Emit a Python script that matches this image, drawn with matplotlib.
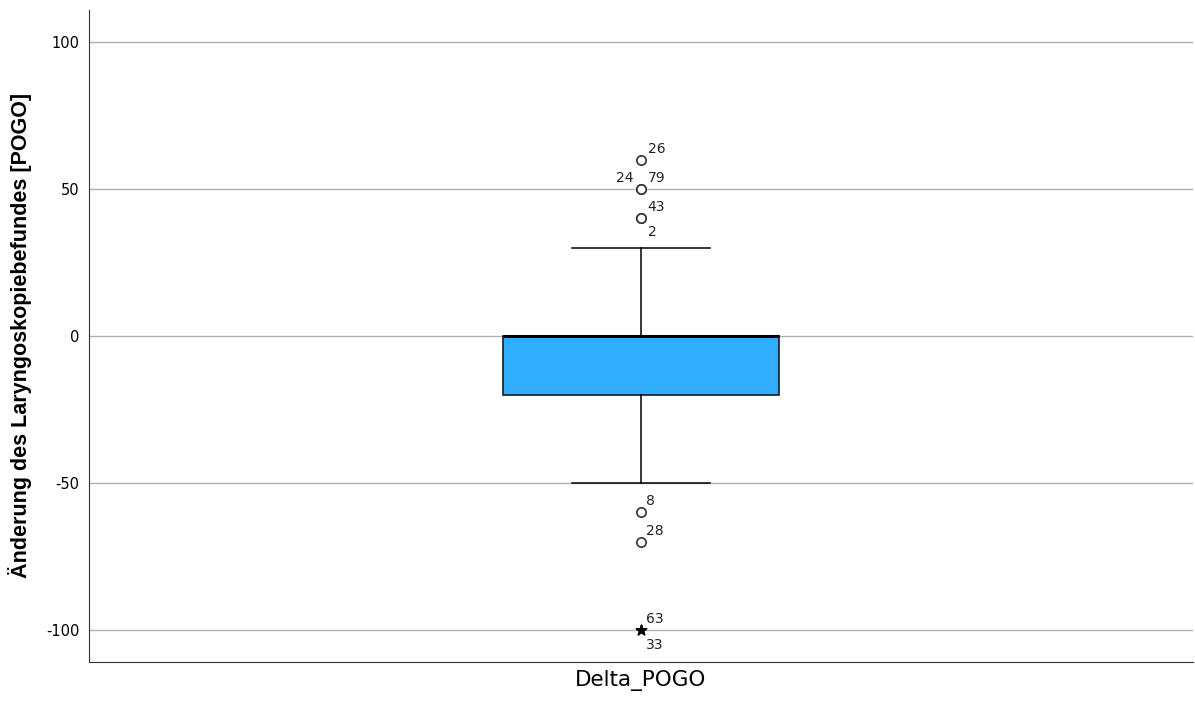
import numpy as np
import matplotlib.pyplot as plt

# box statistics for Delta_POGO
q1, med, q3 = -20, 0, 0
whislo, whishi = -50, 30

# outliers (circle) and extremes (star) with case numbers
out_vals = [60, 50, 50, 40, 40, -60, -70]
out_ids = ['26', '24', '79', '43', '2', '8', '28']
ext_vals = [-100, -100]
ext_ids = ['63', '33']

# where the case label sits relative to the marker (points)
out_offs = [(5, 5), (-18, 5), (5, 5), (5, 5), (5, -13), (4, 5), (4, 5)]
ext_offs = [(4, 5), (4, -14)]

plt.rcParams['font.family'] = ['DejaVu Sans']
plt.rcParams['axes.unicode_minus'] = False
fig, ax = plt.subplots(figsize=(11.95, 7.02), dpi=100)
fig.subplots_adjust(left=0.0745, right=0.998, top=0.986, bottom=0.057)

stats = [dict(med=med, q1=q1, q3=q3, whislo=whislo, whishi=whishi, fliers=[], label='Delta_POGO')]
ax.bxp(stats, positions=[0], widths=0.5, patch_artist=True, showfliers=False,
       boxprops=dict(facecolor='#31adff', edgecolor='#1a1a1a', linewidth=1.2),
       medianprops=dict(color='black', linewidth=2.2),
       whiskerprops=dict(color='black', linewidth=1.1),
       capprops=dict(color='black', linewidth=1.1), capwidths=0.25, zorder=3)

ax.scatter(np.zeros(len(out_vals)), out_vals, s=45, facecolors='white',
           edgecolors='#333333', linewidths=1.2, zorder=4)
ax.scatter(np.zeros(len(ext_vals)), ext_vals, s=60, marker='*', color='black', zorder=4)

for v, t, o in zip(out_vals + ext_vals, out_ids + ext_ids, out_offs + ext_offs):
    ax.annotate(t, (0, v), xytext=o, textcoords='offset points', fontsize=10, color='#222222')

ax.set_xlim(-1, 1)
ax.set_ylim(-111, 111)
ax.set_yticks([-100, -50, 0, 50, 100])
ax.yaxis.grid(True, color='#b0b0b0', linewidth=1)
ax.set_axisbelow(True)
for s in ['top', 'right']:
    ax.spines[s].set_visible(False)
ax.spines['left'].set_color('#333333')
ax.spines['bottom'].set_color('#333333')
ax.tick_params(axis='y', labelsize=10.5, length=0, pad=7)
ax.tick_params(axis='x', labelsize=15.5, length=0, pad=6)
ax.set_ylabel('Änderung des Laryngoskopiebefundes [POGO]', fontsize=15.5, fontweight='bold',
              family='Liberation Sans')
ax.yaxis.set_label_coords(-0.052, 0.5)

fig.savefig('out.png', dpi=100)
